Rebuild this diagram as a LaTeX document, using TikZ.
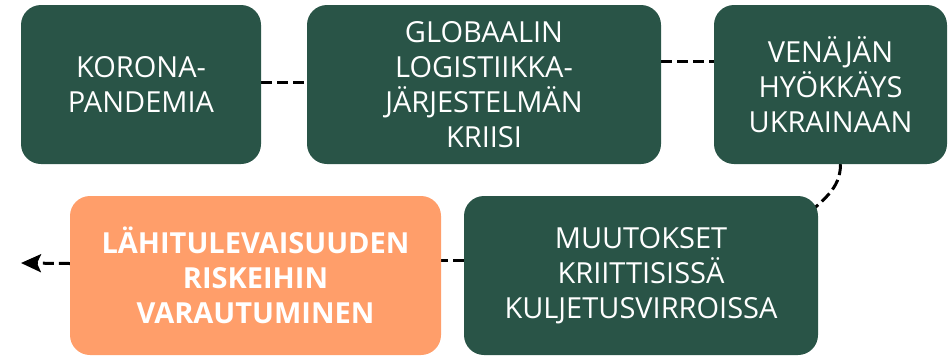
\documentclass[tikz,border=0pt]{standalone}
\usepackage{fontspec}
\setmainfont{Open Sans}
\usepackage{tikz}
\usetikzlibrary{arrows.meta,backgrounds}

\definecolor{boxgreen}{RGB}{41,84,71}
\definecolor{boxorange}{RGB}{255,158,106}

\tikzset{
  greenbox/.style={fill=boxgreen,text=white,rounded corners=20pt,
    minimum height=159pt,align=center,inner sep=0pt,
    font=\fontsize{29}{35}\selectfont},
  orangebox/.style={greenbox,fill=boxorange,font=\fontsize{29}{35}\selectfont\bfseries},
  link/.style={line width=3pt,dash pattern=on 11pt off 5pt}
}

\begin{document}
\begin{tikzpicture}[x=1pt,y=-1pt]
  \useasboundingbox (0,0) rectangle (948,357);
  % top row
  \node[greenbox,minimum width=240pt] (korona) at (141,84.5) {KORONA-\\PANDEMIA};
  \node[greenbox,minimum width=354pt] (logistiikka) at (484,84.5)
    {GLOBAALIN\\LOGISTIIKKA-\\JÄRJESTELMÄN\\KRIISI};
  \node[greenbox,minimum width=233pt] (venaja) at (830.5,84.5)
    {VENÄJÄN\\HYÖKKÄYS\\UKRAINAAN};
  % bottom row
  \node[greenbox,minimum width=354pt] (muutokset) at (641,275.5)
    {MUUTOKSET\\KRIITTISISSÄ\\KULJETUSVIRROISSA};
  \node[orangebox,minimum width=371pt] (varautuminen) at (255.5,275.5)
    {LÄHITULEVAISUUDEN\\RISKEIHIN\\VARAUTUMINEN};
  \coordinate (loppu) at (21,263);
  % dashed connectors behind the boxes
  \begin{scope}[on background layer]
    \draw[link] ([yshift=2pt]korona.east) -- ([yshift=2pt]logistiikka.west);
    \draw[link] ([yshift=23pt]logistiikka.east) -- ([yshift=23pt]venaja.west);
    \draw[link] ([xshift=10pt]venaja.south) to[out=-90,in=45]
      ([shift={(-14,22)}]muutokset.north east);
    \draw[link] ([yshift=15pt]muutokset.west) -- ([yshift=15pt]varautuminen.east);
    \draw[link,-{Stealth[length=20pt,width=18pt,inset=4pt]}]
      ([yshift=12pt]varautuminen.west) -- (loppu);
  \end{scope}
\end{tikzpicture}
\end{document}
